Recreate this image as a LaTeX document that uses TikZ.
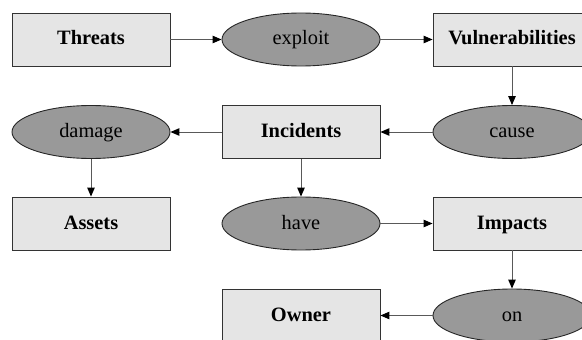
\documentclass[tikz,border=0pt]{standalone}
\usepackage{fontspec}
\setmainfont{Liberation Serif}
\usetikzlibrary{shapes.geometric,arrows.meta}
\begin{document}
\begin{tikzpicture}[x=1pt,y=-1pt,
  box/.style={rectangle, draw=black!80, fill=black!10, line width=0.9pt, minimum width=158pt, minimum height=53pt, inner sep=0pt, text height=15pt, text depth=4pt, font=\fontsize{20.4}{24}\selectfont\bfseries},
  oval/.style={ellipse, draw=black!85, fill=black!40, line width=0.9pt, minimum width=158pt, minimum height=53pt, inner sep=0pt, text height=15pt, text depth=4pt, font=\fontsize{20.4}{24}\selectfont},
  conn/.style={draw=black!65, line width=1pt, -{Triangle[length=9pt,width=7.5pt,fill=black,color=black]}}]
\useasboundingbox (0,0) rectangle (582,340);
\clip (0,0) rectangle (582,340);
\node[box] (threats) at (91,39.5) {Threats};
\node[oval] (exploit) at (301,39.5) {exploit};
\node[box] (vuln) at (512,39.5) {Vulnerabilities};
\node[oval] (damage) at (91,132) {damage};
\node[box] (incidents) at (301,132) {Incidents};
\node[oval] (cause) at (512,132) {cause};
\node[box] (assets) at (91,223.5) {Assets};
\node[oval] (have) at (301,223.5) {have};
\node[box] (impacts) at (512,223.5) {Impacts};
\node[box] (owner) at (301,315.5) {Owner};
\node[oval] (on) at (512,315.5) {on};
\draw[conn] (threats) -- (exploit);
\draw[conn] (exploit) -- (vuln);
\draw[conn] (vuln) -- (cause);
\draw[conn] (cause) -- (incidents);
\draw[conn] (incidents) -- (damage);
\draw[conn] (damage) -- (assets);
\draw[conn] (incidents) -- (have);
\draw[conn] (have) -- (impacts);
\draw[conn] (impacts) -- (on);
\draw[conn] (on) -- (owner);
\end{tikzpicture}
\end{document}
